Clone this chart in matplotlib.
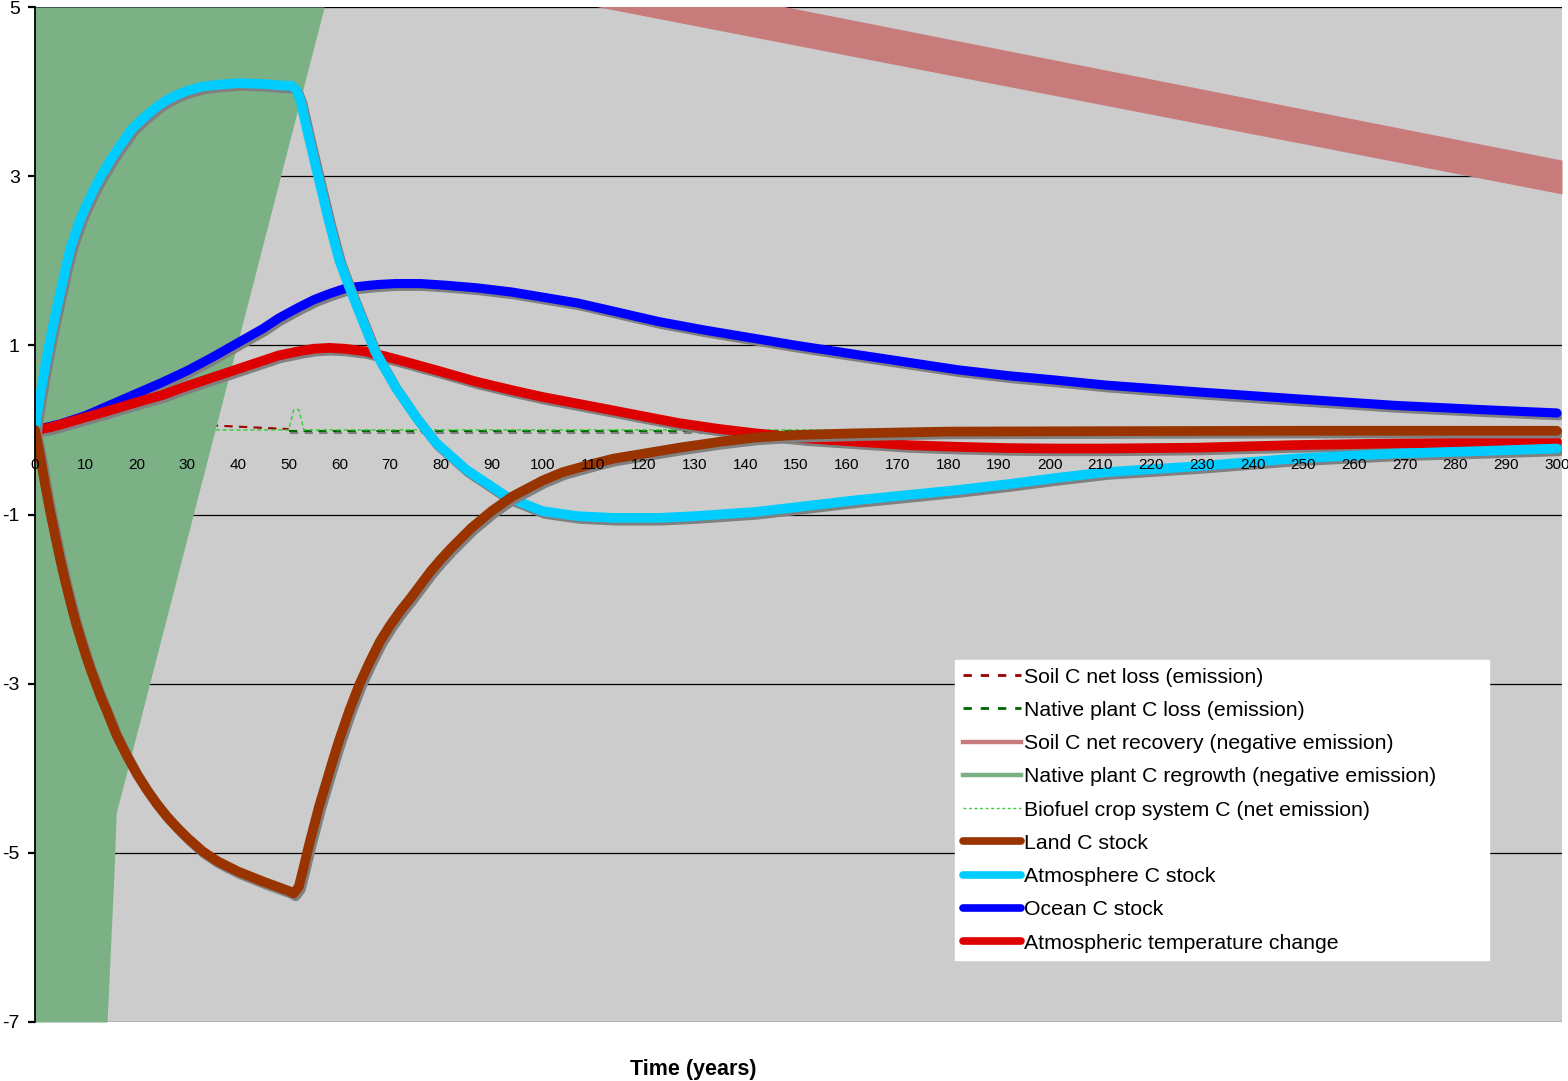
import matplotlib
matplotlib.use("Agg")
import matplotlib.pyplot as plt
from matplotlib import patheffects as pe
from matplotlib.lines import Line2D

plt.rcParams['font.family'] = ['Liberation Sans', 'DejaVu Sans']

# ---- series (years, values) ----
land_years = [0, 0.5, 1, 2, 3, 4, 5, 6, 7, 8, 9, 10, 11, 12, 13, 14, 15, 16, 17, 18, 19, 20, 22,
              24, 26, 28, 30, 33, 36, 40, 45, 50, 51, 52, 53, 54, 55, 56, 57, 58, 59, 60, 62, 64,
              66, 68, 70, 72, 74, 76, 78, 80, 82, 86, 90, 94, 100, 104, 110, 114, 120, 127, 135,
              142, 150, 162, 180, 210, 250, 300]
land_c = [0, -0.15, -0.3, -0.65, -0.97, -1.26, -1.54, -1.8, -2.04, -2.27, -2.47, -2.66, -2.84,
          -3.0, -3.16, -3.3, -3.45, -3.6, -3.72, -3.84, -3.95, -4.06, -4.25, -4.42, -4.57, -4.7,
          -4.82, -4.98, -5.1, -5.22, -5.34, -5.45, -5.48, -5.40, -5.16, -4.91, -4.68, -4.45,
          -4.25, -4.05, -3.85, -3.66, -3.31, -3.0, -2.74, -2.5, -2.31, -2.14, -1.99, -1.83,
          -1.67, -1.53, -1.40, -1.16, -0.96, -0.79, -0.6, -0.5, -0.4, -0.34, -0.28, -0.21,
          -0.14, -0.09, -0.06, -0.04, -0.02, -0.015, -0.01, -0.01]

atmos_years = [0, 0.5, 1, 1.5, 2, 3, 4, 5, 6, 7, 8, 9, 10, 11, 12, 13, 14, 15, 16, 17, 18, 19, 20,
               22, 24, 26, 28, 30, 33, 36, 40, 45, 49, 50.5, 51.5, 52.3, 54, 56, 58, 60, 62, 64,
               67, 71, 75, 79, 85, 93, 100, 107, 114, 123, 130, 142, 152, 162, 172, 182, 192,
               201, 211, 229, 248, 268, 285, 300]
atmos_c = [0, 0.22, 0.4, 0.58, 0.75, 1.07, 1.36, 1.63, 1.9, 2.15, 2.33, 2.5, 2.64, 2.77, 2.89,
           3.0, 3.1, 3.2, 3.29, 3.38, 3.46, 3.55, 3.61, 3.72, 3.82, 3.9, 3.96, 4.01, 4.06, 4.08,
           4.1, 4.09, 4.07, 4.07, 4.02, 3.9, 3.45, 2.95, 2.45, 2.0, 1.68, 1.38, 0.93, 0.51, 0.16,
           -0.15, -0.47, -0.79, -0.96, -1.02, -1.04, -1.04, -1.02, -0.97, -0.9, -0.83, -0.77,
           -0.71, -0.64, -0.57, -0.5, -0.43, -0.34, -0.28, -0.25, -0.22]

ocean_years = [0, 5, 10, 15, 20, 25, 30, 35, 40, 45, 48, 52, 55, 58, 61, 63, 66, 68, 71, 76, 81,
               87, 94, 100, 107, 115, 123, 132, 142, 150, 162, 172, 182, 192, 201, 211, 229, 248,
               268, 285, 300]
ocean_c = [0, 0.07, 0.17, 0.3, 0.43, 0.56, 0.7, 0.86, 1.03, 1.2, 1.32, 1.45, 1.54, 1.61, 1.67,
           1.69, 1.71, 1.72, 1.73, 1.73, 1.71, 1.68, 1.63, 1.57, 1.50, 1.39, 1.28, 1.18, 1.08,
           1.0, 0.89, 0.8, 0.71, 0.64, 0.59, 0.53, 0.45, 0.37, 0.29, 0.24, 0.2]

temp_years = [0, 3, 6, 10, 13, 18, 22, 25, 30, 35, 40, 45, 48, 52, 55, 58, 61, 65, 69, 74, 80, 87,
              94, 100, 107, 114, 120, 127, 135, 142, 152, 162, 172, 182, 192, 201, 211, 229, 248,
              268, 285, 300]
temp_c = [0, 0.03, 0.08, 0.15, 0.2, 0.29, 0.36, 0.41, 0.52, 0.62, 0.72, 0.82, 0.88, 0.93, 0.96,
          0.97, 0.96, 0.93, 0.87, 0.79, 0.69, 0.57, 0.47, 0.39, 0.31, 0.23, 0.16, 0.08, 0.01,
          -0.04, -0.10, -0.14, -0.18, -0.20, -0.215, -0.22, -0.22, -0.21, -0.18, -0.16, -0.15,
          -0.14]

# emission components near zero
soil_loss_years = [0, 36, 50]
soil_loss = [0.15, 0.05, 0.01]
native_loss_years = [50, 300]
native_loss = [-0.01, -0.01]
biofuel_years = [0, 50, 51, 52, 53, 300]
biofuel = [0, 0, 0.24, 0.24, 0, 0]

# large regrowth / recovery bands (edges run beyond the plotted range)
regrowth_edge_y = [5, -4.53, -5.2, -7]
regrowth_edge_x = [57.0, 16.0, 15.6, 14.2]
recovery_years = [100, 301]
recovery_low = [5.13, 2.79]
recovery_high = [5.57, 3.19]

y_ticks = [5, 3, 1, -1, -3, -5, -7]
x_ticks = list(range(0, 301, 10))

labels = ["Soil C net loss (emission)", "Native plant C loss (emission)",
          "Soil C net recovery (negative emission)", "Native plant C regrowth (negative emission)",
          "Biofuel crop system C (net emission)", "Land C stock", "Atmosphere C stock",
          "Ocean C stock", "Atmospheric temperature change"]

C_SOIL_LOSS = '#990000'
C_NATIVE_LOSS = '#006600'
C_RECOVERY = '#C87B7B'
C_REGROWTH = '#7BB185'
C_BIOFUEL = '#33CC33'
C_LAND = '#993300'
C_ATM = '#00CCFF'
C_OCEAN = '#0000FF'
C_TEMP = '#DD0000'

W, H = 1568, 1081
fig = plt.figure(figsize=(W / 100, H / 100), dpi=100)
ax = fig.add_axes([35 / W, 1 - 1022 / H, (1562 - 35) / W, (1022 - 7) / H])
ax.set_facecolor('#CCCCCC')
ax.set_xlim(0, 301)
ax.set_ylim(-7, 5)

# horizontal grid lines
for yv in y_ticks:
    ax.axhline(yv, color='black', lw=0.9, zorder=0.8)

# small emission lines (sit under the bands)
ax.plot(soil_loss_years, soil_loss, color=C_SOIL_LOSS, lw=1.5, ls=(0, (4, 3)), zorder=1.2)
ax.plot(native_loss_years, native_loss, color=C_NATIVE_LOSS, lw=1.5, ls=(0, (4, 3)), zorder=1.2,
        path_effects=[pe.SimpleLineShadow(offset=(1, -1.5), shadow_color='#808080', alpha=1),
                      pe.Normal()])
ax.plot(biofuel_years, biofuel, color=C_BIOFUEL, lw=1.0, ls=(0, (3, 2)), zorder=1.3)

# bands
ax.fill_betweenx(regrowth_edge_y, 0, regrowth_edge_x, color=C_REGROWTH, lw=0, zorder=2)
ax.fill_between(recovery_years, recovery_low, recovery_high, color=C_RECOVERY, lw=0, zorder=2)

shadow = [pe.SimpleLineShadow(offset=(1.5, -2.0), shadow_color='#808080', alpha=1), pe.Normal()]
ax.plot(ocean_years, ocean_c, color=C_OCEAN, lw=6.6, solid_capstyle='round',
        solid_joinstyle='round', zorder=4, path_effects=shadow)
ax.plot(temp_years, temp_c, color=C_TEMP, lw=7.0, solid_capstyle='round',
        solid_joinstyle='round', zorder=5, path_effects=shadow)
ax.plot(atmos_years, atmos_c, color=C_ATM, lw=7.0, solid_capstyle='round',
        solid_joinstyle='round', zorder=6, path_effects=shadow)
ax.plot(land_years, land_c, color=C_LAND, lw=7.0, solid_capstyle='round',
        solid_joinstyle='round', zorder=7, path_effects=shadow)

# axes styling
for s in ('top', 'right'):
    ax.spines[s].set_visible(False)
ax.spines['left'].set_color('black')
ax.spines['left'].set_linewidth(1.3)
ax.spines['left'].set_zorder(9)
ax.spines['bottom'].set_position(('data', 0))
ax.spines['bottom'].set_visible(False)

ax.set_xticks(x_ticks)
ax.set_xticklabels([str(v) for v in x_ticks])
ax.tick_params(axis='x', length=0, pad=20, labelsize=11)
ax.set_yticks(y_ticks)
ax.set_yticklabels([str(v) for v in y_ticks])
ax.tick_params(axis='y', direction='out', length=5, width=1.6, pad=6, labelsize=14)
ax.xaxis.set_zorder(9)
ax.yaxis.set_zorder(9)

# legend
handles = [
    Line2D([], [], color=C_SOIL_LOSS, lw=2, ls=(0, (3, 3.2))),
    Line2D([], [], color=C_NATIVE_LOSS, lw=2, ls=(0, (3, 3.2))),
    Line2D([], [], color=C_RECOVERY, lw=3.2),
    Line2D([], [], color=C_REGROWTH, lw=3.2),
    Line2D([], [], color=C_BIOFUEL, lw=1, ls=(0, (2, 2))),
    Line2D([], [], color=C_LAND, lw=5.5, solid_capstyle='round'),
    Line2D([], [], color=C_ATM, lw=5.5, solid_capstyle='round'),
    Line2D([], [], color=C_OCEAN, lw=5.5, solid_capstyle='round'),
    Line2D([], [], color=C_TEMP, lw=5.5, solid_capstyle='round'),
]
x0 = (955 - 35) / (1562 - 35)
y1 = (1022 - 660) / (1022 - 7)
wid = (1489 - 955) / (1562 - 35)
hgt = (954 - 660) / (1022 - 7)
leg = ax.legend(handles, labels, loc='upper left', bbox_to_anchor=(x0, y1 - hgt, wid, hgt),
                mode='expand', fontsize=15.3, frameon=True, fancybox=False, framealpha=1,
                edgecolor='white', facecolor='white', borderpad=0.36, borderaxespad=0,
                handlelength=2.75, handletextpad=0.12, labelspacing=0.67)
leg.set_zorder(10)

fig.text(693 / W, 1 - 1070 / H, 'Time (years)', ha='center', va='center',
         fontsize=15.5, fontweight='bold')

fig.savefig('out.png', dpi=100, facecolor='white')
